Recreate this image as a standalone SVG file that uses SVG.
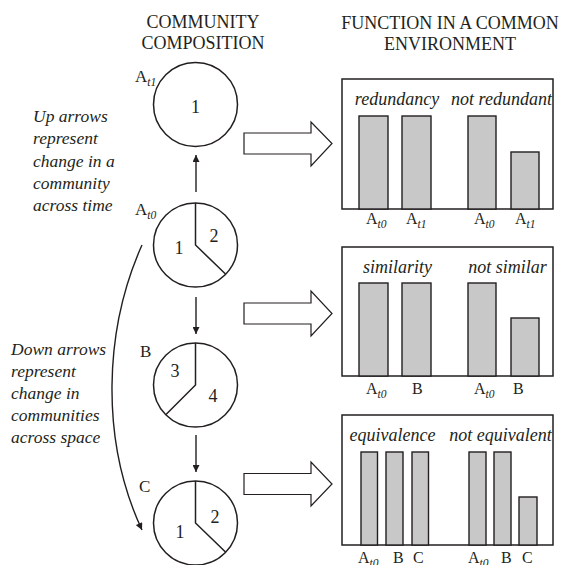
<svg xmlns="http://www.w3.org/2000/svg" width="561" height="565" viewBox="0 0 561 565">
<defs>
<marker id="ah" viewBox="0 0 10 10" refX="10" refY="5" markerWidth="10" markerHeight="7" markerUnits="userSpaceOnUse" orient="auto">
<path d="M0,0 L10,5 L0,10 z" fill="#231f20"/>
</marker>
<style>
.t{font-family:"Liberation Serif","Times New Roman",serif;fill:#231f20}
.ti{font-family:"Liberation Serif","Times New Roman",serif;font-style:italic;fill:#231f20}
.title{font-size:18px;text-anchor:middle}
.note{font-size:17.5px}
.num{font-size:18px;text-anchor:middle}
.lab{font-size:17px}
.blab{font-size:16px}
.sub{font-size:11.5px;font-style:italic}
.head{font-size:18px;text-anchor:middle}
.circ{fill:#fff;stroke:#231f20;stroke-width:1.5}
.pie{fill:none;stroke:#231f20;stroke-width:1.5}
.box{fill:#fff;stroke:#231f20;stroke-width:1.5}
.bar{fill:#c8c8c8;stroke:#231f20;stroke-width:1.4}
.big{fill:#fff;stroke:#231f20;stroke-width:1.2}
.conn{fill:none;stroke:#231f20;stroke-width:1.4}
</style>
</defs>
<rect width="561" height="565" fill="#fff"/>

<g id="titles">
<text class="t title" x="203" y="27.5">COMMUNITY</text>
<text class="t title" x="203" y="49">COMPOSITION</text>
<text class="t title" x="450" y="29">FUNCTION IN A COMMON</text>
<text class="t title" x="450" y="50">ENVIRONMENT</text>
</g>

<g id="note-up">
<text class="ti note" x="33" y="122">Up arrows</text>
<text class="ti note" x="33" y="144">represent</text>
<text class="ti note" x="33" y="166.5">change in a</text>
<text class="ti note" x="33" y="189">community</text>
<text class="ti note" x="33" y="211">across time</text>
</g>

<g id="note-down">
<text class="ti note" x="11" y="355">Down arrows</text>
<text class="ti note" x="11" y="377">represent</text>
<text class="ti note" x="11" y="399">change in</text>
<text class="ti note" x="11" y="421">communities</text>
<text class="ti note" x="11" y="443">across space</text>
</g>

<g id="node-At1">
<circle class="circ" cx="195.5" cy="104.5" r="42"/>
<text class="t num" x="195.5" y="113">1</text>
<text class="t lab" x="135" y="82">A<tspan class="sub" dy="3.5">t1</tspan></text>
</g>

<g id="node-At0">
<circle class="circ" cx="195.5" cy="245" r="42"/>
<path class="pie" d="M195.5,203 V245 L225.5,274"/>
<text class="t num" x="179" y="254">1</text>
<text class="t num" x="214" y="242">2</text>
<text class="t lab" x="135" y="215">A<tspan class="sub" dy="3.5">t0</tspan></text>
</g>

<g id="node-B">
<circle class="circ" cx="195.5" cy="385" r="42"/>
<path class="pie" d="M195.5,343 V385 L166,414.5"/>
<text class="t num" x="175" y="377">3</text>
<text class="t num" x="213" y="402">4</text>
<text class="t lab" x="140" y="357">B</text>
</g>

<g id="node-C">
<circle class="circ" cx="195.5" cy="523" r="42"/>
<path class="pie" d="M195.5,481 V523 L225.5,552"/>
<text class="t num" x="215" y="523">2</text>
<text class="t num" x="180" y="538">1</text>
<text class="t lab" x="139" y="492">C</text>
</g>

<g id="panel-1">
<rect class="box" x="342" y="79" width="211" height="130"/>
<rect class="bar" x="359" y="116" width="29" height="93"/>
<rect class="bar" x="402" y="116" width="29" height="93"/>
<rect class="bar" x="468" y="116" width="28" height="93"/>
<rect class="bar" x="511" y="152" width="28" height="57"/>
<text class="ti head" x="397" y="105">redundancy</text>
<text class="ti head" x="501.5" y="105">not redundant</text>
<text class="t blab" x="366" y="224">A<tspan class="sub" dy="3.5">t0</tspan></text>
<text class="t blab" x="406" y="224">A<tspan class="sub" dy="3.5">t1</tspan></text>
<text class="t blab" x="474" y="224">A<tspan class="sub" dy="3.5">t0</tspan></text>
<text class="t blab" x="515" y="224">A<tspan class="sub" dy="3.5">t1</tspan></text>
</g>

<g id="panel-2">
<rect class="box" x="342" y="247" width="211" height="129"/>
<rect class="bar" x="359" y="283" width="29" height="93"/>
<rect class="bar" x="402" y="283" width="29" height="93"/>
<rect class="bar" x="468" y="283" width="28" height="93"/>
<rect class="bar" x="511" y="318" width="28" height="58"/>
<text class="ti head" x="397.5" y="273">similarity</text>
<text class="ti head" x="507.5" y="273">not similar</text>
<text class="t blab" x="366" y="394">A<tspan class="sub" dy="3.5">t0</tspan></text>
<text class="t blab" x="412" y="394">B</text>
<text class="t blab" x="474" y="394">A<tspan class="sub" dy="3.5">t0</tspan></text>
<text class="t blab" x="513" y="394">B</text>
</g>

<g id="panel-3">
<rect class="box" x="342" y="415" width="211" height="130"/>
<rect class="bar" x="361" y="452" width="16.5" height="93"/>
<rect class="bar" x="386" y="452" width="17" height="93"/>
<rect class="bar" x="412" y="452" width="16.5" height="93"/>
<rect class="bar" x="469" y="452" width="17" height="93"/>
<rect class="bar" x="494" y="452" width="17" height="93"/>
<rect class="bar" x="519" y="497" width="18" height="48"/>
<text class="ti head" x="392.5" y="441">equivalence</text>
<text class="ti head" x="500.5" y="441">not equivalent</text>
<text class="t blab" x="358" y="563">A<tspan class="sub" dy="3.5">t0</tspan></text>
<text class="t blab" x="393" y="563">B</text>
<text class="t blab" x="413" y="563">C</text>
<text class="t blab" x="468" y="563">A<tspan class="sub" dy="3.5">t0</tspan></text>
<text class="t blab" x="501" y="563">B</text>
<text class="t blab" x="522" y="563">C</text>
</g>

<g id="connectors">
<path class="conn" d="M196,192 V155" marker-end="url(#ah)"/>
<path class="conn" d="M196,297 V334" marker-end="url(#ah)"/>
<path class="conn" d="M196,435 V472" marker-end="url(#ah)"/>
<path class="conn" d="M142,245 C104,330 100,440 142,530" marker-end="url(#ah)"/>
<polygon class="big" points="244,133 311,133 311,122 332,143.5 311,166 311,154 244,154"/>
<polygon class="big" points="244,303 311,303 311,291 332,313.5 311,336 311,324 244,324"/>
<polygon class="big" points="244,473.5 311,473.5 311,462 332,484 311,506 311,494.5 244,494.5"/>
</g>
</svg>
